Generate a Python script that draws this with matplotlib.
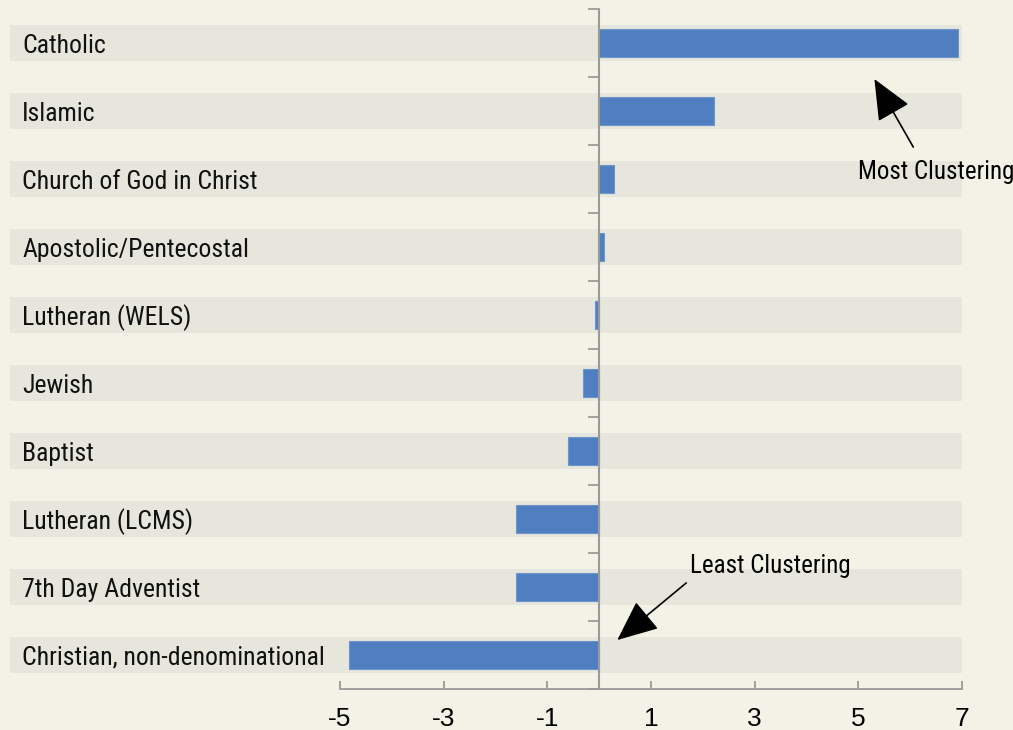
import matplotlib
matplotlib.use('Agg')
import matplotlib.pyplot as plt

# 宗教 / 聚集程度
categories = ['Catholic', 'Islamic', 'Church of God in Christ', 'Apostolic/Pentecostal',
              'Lutheran (WELS)', 'Jewish', 'Baptist', 'Lutheran (LCMS)',
              '7th Day Adventist', 'Christian, non-denominational']
values = [6.93, 2.22, 0.29, 0.10, -0.09, -0.32, -0.61, -1.60, -1.60, -4.83]
x_ticks = [-5, -3, -1, 1, 3, 5, 7]

bg = '#f3f2e7'
band = '#e7e6dc'
bar_color = '#4f7fc0'
axis_gray = '#9a9a9a'
label_font = ['Roboto Condensed', 'Liberation Sans Narrow', 'Roboto', 'DejaVu Sans']

fig = plt.figure(figsize=(10.13, 7.30), dpi=100, facecolor=bg)
ax = fig.add_axes([340 / 1013, 41 / 730, 622 / 1013, 680 / 730])
ax.set_facecolor(bg)

n = len(categories)
ypos = list(range(n))
for y in ypos:
    ax.axhspan(y - 0.265, y + 0.265, xmin=(10 - 340) / 622, xmax=1.0,
               color=band, lw=0, clip_on=False, zorder=0)
ax.barh(ypos, values, height=0.4, color=bar_color, edgecolor='#6f96cc',
        linewidth=0.8, zorder=2)

ax.set_xlim(-5, 7)
ax.set_ylim(n - 0.5, -0.5)

for s in ['top', 'right', 'left']:
    ax.spines[s].set_visible(False)
ax.spines['bottom'].set_color(axis_gray)
ax.spines['bottom'].set_linewidth(1.3)
ax.axvline(0, color=axis_gray, lw=1.5, zorder=3)
ax.set_xticks(x_ticks)
ax.set_xticklabels([str(t) for t in x_ticks], fontsize=19, family='Liberation Sans')
ax.tick_params(axis='x', direction='in', length=6, color=axis_gray, width=1.3, pad=13)
ax.set_yticks([])
# 零线上的刻度
for b in [y - 0.5 for y in range(n + 1)]:
    ax.plot([-0.2, 0], [b, b], color=axis_gray, lw=1.3, zorder=3, clip_on=False)

for y, name in zip(ypos, categories):
    ax.annotate(name, xy=(22 / 1013, y), xycoords=('figure fraction', 'data'),
                xytext=(0, -2), textcoords='offset points',
                fontsize=18.5, family=label_font, va='center', ha='left', color='#111111')

arrow = dict(arrowstyle='-|>,head_length=1.6,head_width=0.7', mutation_scale=16,
             color='black', lw=1.2, shrinkA=0, shrinkB=0)
ax.annotate('', xy=(5.31, 0.53), xytext=(6.06, 1.53), arrowprops=arrow,
            annotation_clip=False)
ax.text(6.5, 1.9, 'Most Clustering', fontsize=18, family=label_font,
        ha='center', va='center', clip_on=False)
ax.annotate('', xy=(0.35, 8.78), xytext=(1.68, 7.94), arrowprops=arrow,
            annotation_clip=False)
ax.text(3.3, 7.69, 'Least Clustering', fontsize=18, family=label_font,
        ha='center', va='center', clip_on=False)

fig.savefig('out.png', dpi=100, facecolor=bg)
